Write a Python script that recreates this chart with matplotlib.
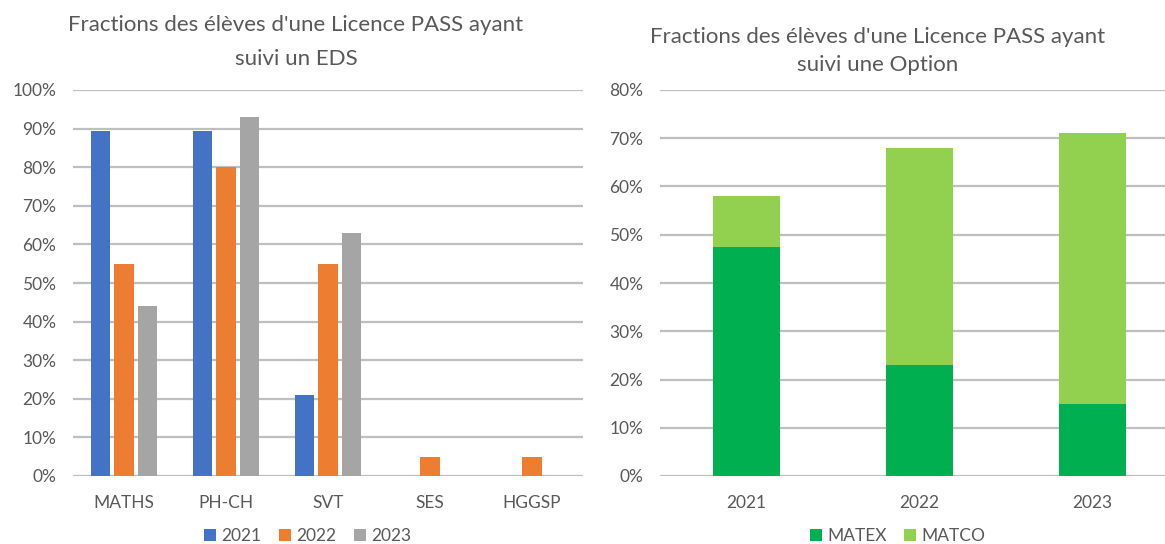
import numpy as np
import matplotlib
matplotlib.use("Agg")
import matplotlib.pyplot as plt
from matplotlib.ticker import PercentFormatter

plt.rcParams['font.family'] = ['Lato', 'DejaVu Sans']

# données EDS
matieres = ['MATHS', 'PH-CH', 'SVT', 'SES', 'HGGSP']
annees = ['2021', '2022', '2023']
eds_2021 = [0.895, 0.895, 0.21, 0.0, 0.0]
eds_2022 = [0.55, 0.80, 0.55, 0.05, 0.05]
eds_2023 = [0.44, 0.93, 0.63, 0.0, 0.0]

# données options
opt_annees = ['2021', '2022', '2023']
matex = [0.475, 0.23, 0.15]
matco = [0.105, 0.45, 0.56]

TXT = '#595959'
GRID = '#BFBFBF'
W, H = 1165, 544

fig = plt.figure(figsize=(W / 100, H / 100), dpi=100)


def px_axes(x0, y0, x1, y1):
    # coordonnées pixels (origine en haut à gauche)
    return fig.add_axes([x0 / W, 1 - y1 / H, (x1 - x0) / W, (y1 - y0) / H])


def style(ax, ymax, step):
    for s in ax.spines.values():
        s.set_visible(False)
    ax.set_ylim(0, ymax)
    ax.set_yticks(np.arange(0, ymax + 1e-9, step))
    ax.yaxis.set_major_formatter(PercentFormatter(1.0, decimals=0))
    ax.yaxis.grid(True, color=GRID, linewidth=1.6)
    ax.set_axisbelow(True)
    ax.tick_params(axis='both', length=0, colors=TXT, labelsize=12.5)
    ax.tick_params(axis='y', pad=12)
    ax.tick_params(axis='x', pad=14)


# --- graphique de gauche
ax1 = px_axes(73, 90, 583, 476)
x = np.arange(len(matieres))
bw = 0.19
gap = 0.04
ax1.bar(x - bw - gap, eds_2021, bw, color='#4472C4', label='2021')
ax1.bar(x, eds_2022, bw, color='#ED7D31', label='2022')
ax1.bar(x + bw + gap, eds_2023, bw, color='#A5A5A5', label='2023')
ax1.set_xlim(-0.5, len(matieres) - 0.5)
ax1.set_xticks(x)
ax1.set_xticklabels(matieres)
style(ax1, 1.0, 0.1)
ax1.set_title("Fractions des élèves d'une Licence PASS ayant\nsuivi un EDS",
              color=TXT, fontsize=16, pad=18, linespacing=1.85, x=0.437)
ax1.legend(loc='upper center', bbox_to_anchor=(0.46, -0.095), ncol=3,
           frameon=False, fontsize=12.5, labelcolor=TXT, handlelength=0.7,
           handleheight=0.7, handletextpad=0.3, columnspacing=1.0)

# --- graphique de droite
ax2 = px_axes(660, 90, 1165, 476)
xo = np.arange(len(opt_annees))
bw2 = 0.39
ax2.bar(xo, matex, bw2, color='#00B050', label='MATEX')
ax2.bar(xo, matco, bw2, bottom=matex, color='#92D050', label='MATCO')
ax2.set_xlim(-0.5, 2.42)
ax2.set_xticks(xo)
ax2.set_xticklabels(opt_annees)
style(ax2, 0.8, 0.1)
ax2.set_title("Fractions des élèves d'une Licence PASS ayant\nsuivi une Option",
              color=TXT, fontsize=16, pad=14, linespacing=1.45, x=0.43)
ax2.legend(loc='upper center', bbox_to_anchor=(0.47, -0.095), ncol=2,
           frameon=False, fontsize=12.5, labelcolor=TXT, handlelength=0.7,
           handleheight=0.7, handletextpad=0.3, columnspacing=1.0)

fig.savefig('out.png', dpi=100, facecolor='white')
